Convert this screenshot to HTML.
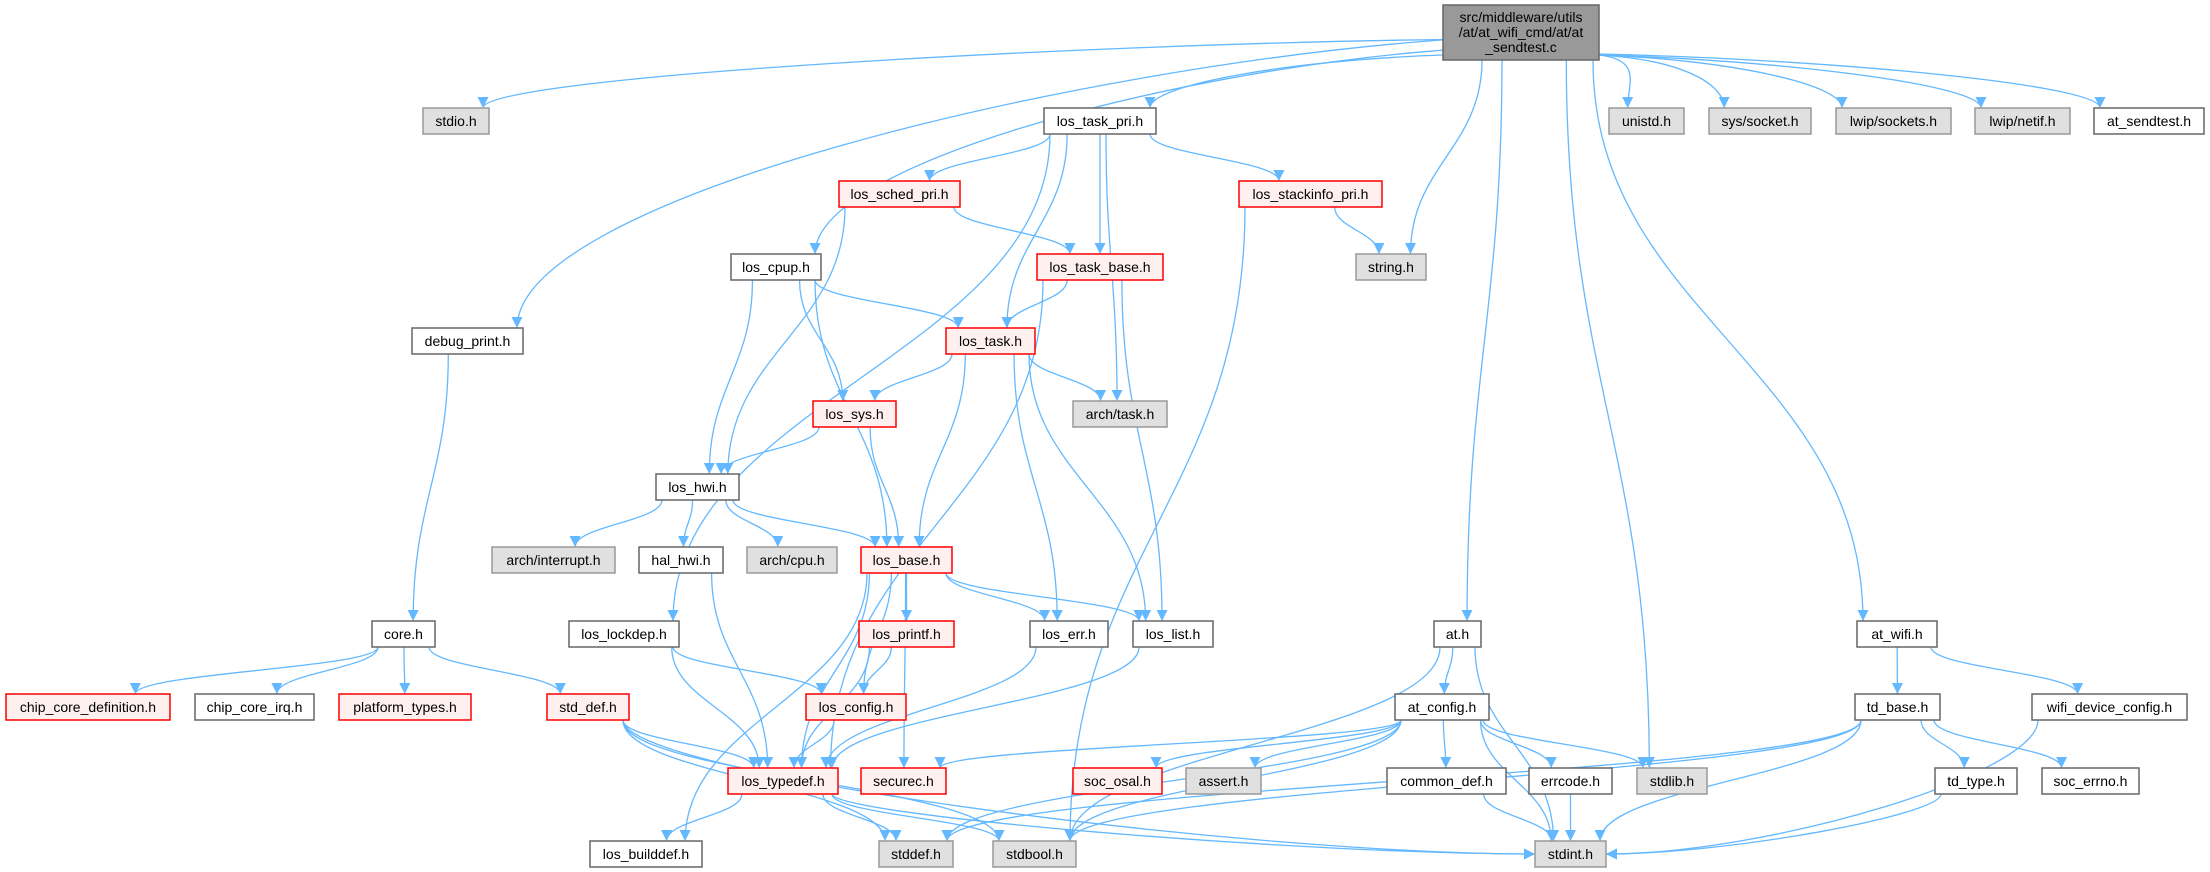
<!DOCTYPE html>
<html><head><meta charset="utf-8"><style>
html,body{margin:0;padding:0;background:#fff;}
svg{display:block;}
text{font-family:"Liberation Sans",sans-serif;font-size:14px;fill:#000;}
</style></head><body>
<svg id="g" width="2210" height="872" viewBox="0 0 2210 872" xmlns="http://www.w3.org/2000/svg">
<defs><marker id="a" viewBox="0 0 10 10" refX="10" refY="5" markerWidth="11" markerHeight="11" markerUnits="userSpaceOnUse" orient="auto"><path d="M0,0 L10,5 L0,10 z" fill="#63b8ff"/></marker></defs>
<g id="edges"></g><g id="nodes"></g>
</svg>
<script>
var R=[5,108,181,254,328,401,474,547,621,694,768,841];
var N={
"main":[1443,1599,0,"m"],
"stdio.h":[423,489,1,"g"],"los_task_pri.h":[1044,1156,1,"w"],"unistd.h":[1609,1684,1,"g"],"sys/socket.h":[1709,1811,1,"g"],"lwip/sockets.h":[1836,1951,1,"g"],"lwip/netif.h":[1975,2070,1,"g"],"at_sendtest.h":[2094,2204,1,"w"],
"los_sched_pri.h":[839,960,2,"r"],"los_stackinfo_pri.h":[1239,1382,2,"r"],
"los_cpup.h":[731,821,3,"w"],"los_task_base.h":[1037,1163,3,"r"],"string.h":[1356,1426,3,"g"],
"debug_print.h":[412,523,4,"w"],"los_task.h":[946,1035,4,"r"],
"los_sys.h":[813,896,5,"r"],"arch/task.h":[1073,1167,5,"g"],
"los_hwi.h":[656,739,6,"w"],
"arch/interrupt.h":[492,615,7,"g"],"hal_hwi.h":[639,723,7,"w"],"arch/cpu.h":[747,837,7,"g"],"los_base.h":[861,952,7,"r"],
"core.h":[372,435,8,"w"],"los_lockdep.h":[569,679,8,"w"],"los_printf.h":[859,954,8,"r"],"los_err.h":[1030,1108,8,"w"],"los_list.h":[1133,1213,8,"w"],"at.h":[1434,1481,8,"w"],"at_wifi.h":[1857,1937,8,"w"],
"chip_core_definition.h":[6,170,9,"r"],"chip_core_irq.h":[195,314,9,"w"],"platform_types.h":[339,471,9,"r"],"std_def.h":[547,629,9,"r"],"los_config.h":[806,906,9,"r"],"at_config.h":[1395,1489,9,"w"],"td_base.h":[1855,1940,9,"w"],"wifi_device_config.h":[2032,2187,9,"w"],
"los_typedef.h":[728,838,10,"r"],"securec.h":[861,946,10,"r"],"soc_osal.h":[1073,1162,10,"r"],"assert.h":[1186,1261,10,"g"],"common_def.h":[1387,1506,10,"w"],"errcode.h":[1529,1612,10,"w"],"stdlib.h":[1637,1707,10,"g"],"td_type.h":[1935,2017,10,"w"],"soc_errno.h":[2042,2139,10,"w"],
"los_builddef.h":[590,702,11,"w"],"stddef.h":[879,953,11,"g"],"stdbool.h":[993,1076,11,"g"],"stdint.h":[1535,1606,11,"g"]
};
var E=[
["main","stdio.h"],["main","debug_print.h"],["main","los_cpup.h"],["main","los_task_pri.h"],["main","string.h"],["main","at.h"],["main","stdlib.h"],["main","at_wifi.h"],["main","unistd.h"],["main","sys/socket.h"],["main","lwip/sockets.h"],["main","lwip/netif.h"],["main","at_sendtest.h"],
["los_task_pri.h","los_sched_pri.h"],["los_task_pri.h","los_task_base.h"],["los_task_pri.h","los_task.h"],["los_task_pri.h","arch/task.h"],["los_task_pri.h","los_stackinfo_pri.h"],["los_task_pri.h","los_lockdep.h"],
["los_sched_pri.h","los_task_base.h"],["los_sched_pri.h","los_hwi.h"],
["los_stackinfo_pri.h","string.h"],["los_stackinfo_pri.h","stdbool.h"],
["los_task_base.h","los_task.h"],["los_task_base.h","los_list.h"],["los_task_base.h","los_typedef.h"],
["los_cpup.h","los_task.h"],["los_cpup.h","los_sys.h"],["los_cpup.h","los_hwi.h"],["los_cpup.h","los_base.h"],
["debug_print.h","core.h"],
["los_task.h","los_sys.h"],["los_task.h","arch/task.h"],["los_task.h","los_base.h"],["los_task.h","los_err.h"],["los_task.h","los_list.h"],
["los_sys.h","los_hwi.h"],["los_sys.h","los_base.h"],
["los_hwi.h","arch/interrupt.h"],["los_hwi.h","hal_hwi.h"],["los_hwi.h","arch/cpu.h"],["los_hwi.h","los_base.h"],
["hal_hwi.h","los_typedef.h"],
["los_base.h","los_builddef.h"],["los_base.h","los_typedef.h"],["los_base.h","los_config.h"],["los_base.h","los_printf.h"],["los_base.h","securec.h"],["los_base.h","los_err.h"],["los_base.h","los_list.h"],
["core.h","chip_core_definition.h"],["core.h","chip_core_irq.h"],["core.h","platform_types.h"],["core.h","std_def.h"],
["los_lockdep.h","los_typedef.h"],["los_lockdep.h","los_config.h"],
["los_printf.h","los_config.h"],["los_printf.h","los_typedef.h"],
["los_err.h","los_typedef.h"],["los_list.h","los_typedef.h"],["los_config.h","los_typedef.h"],
["std_def.h","los_typedef.h"],["std_def.h","stddef.h"],["std_def.h","stdbool.h"],["std_def.h","stdint.h"],
["los_typedef.h","los_builddef.h"],["los_typedef.h","stddef.h"],["los_typedef.h","stdbool.h"],["los_typedef.h","stdint.h"],
["at.h","at_config.h"],["at.h","stdbool.h"],["at.h","stdint.h"],
["at_config.h","securec.h"],["at_config.h","soc_osal.h"],["at_config.h","assert.h"],["at_config.h","stddef.h"],["at_config.h","stdbool.h"],["at_config.h","stdint.h"],["at_config.h","common_def.h"],["at_config.h","errcode.h"],["at_config.h","stdlib.h"],
["common_def.h","stdint.h"],["errcode.h","stdint.h"],
["at_wifi.h","td_base.h"],["at_wifi.h","wifi_device_config.h"],
["td_base.h","stddef.h"],["td_base.h","stdbool.h"],["td_base.h","stdint.h"],["td_base.h","td_type.h"],["td_base.h","soc_errno.h"],
["td_type.h","stdint.h"],["wifi_device_config.h","stdint.h"]
];
function box(n){var d=N[n];var y1=R[d[2]],h=(d[3]=="m")?55:26;return {x1:d[0],x2:d[1],y1:y1,y2:y1+h,cx:(d[0]+d[1])/2,cy:y1+h/2,row:d[2]};}
function cl(v,a,b){return Math.max(a,Math.min(b,v));}
var eg=document.getElementById("edges"),ng=document.getElementById("nodes"),s="";
E.forEach(function(e){var a=box(e[0]),b=box(e[1]);var wa=(a.x2-a.x1)/2-6,wb=(b.x2-b.x1)/2-6;
var dxc=b.cx-a.cx,dyc=b.y1-a.y2;
var sx,sy,c1x,c1y,ex,ey,c2x,c2y;
if(e[0]=="main"&&(b.cx<a.x1||b.cx>a.x2)&&Math.abs(dxc)>1.2*dyc){
  sx=dxc<0?a.x1:a.x2; sy=a.y1+30+Math.min(20,Math.max(0,40-Math.abs(dxc)/30)); c1x=sx+dxc*0.35; c1y=sy+dyc*0.1;
}else{sx=a.cx+cl(dxc*0.3,-wa,wa);sy=a.y2;c1x=sx;c1y=sy+dyc*0.45;}
if(e[1]=="stdint.h"&&Math.abs(dxc)>3*dyc&&dyc>0){
  ex=dxc>0?b.x1:b.x2; ey=b.cy; c2x=ex-dxc*0.3; c2y=ey;
}else{ex=b.cx+cl(-dxc*0.15,-wb,wb);ey=b.y1;c2x=ex;c2y=ey-(ey-sy)*0.45;}
s+='<path d="M'+sx+','+sy+' C'+c1x+','+c1y+' '+c2x+','+c2y+' '+ex+','+ey+'" fill="none" stroke="#63b8ff" stroke-width="1.3" marker-end="url(#a)"/>';});
eg.innerHTML=s;
var t="";
for(var n in N){var b=box(n),d=N[n];var f="#fff",st="#666";
if(d[3]=="g"){f="#e0e0e0";st="#999";}if(d[3]=="r"){f="#fff0f0";st="#f00";}if(d[3]=="m"){f="#999";st="#666";}
t+='<rect x="'+b.x1+'" y="'+b.y1+'" width="'+(b.x2-b.x1)+'" height="'+(b.y2-b.y1)+'" fill="'+f+'" stroke="'+st+'" stroke-width="1.5"/>';
if(d[3]=="m"){t+='<text x="'+b.cx+'" y="22" text-anchor="middle">src/middleware/utils</text><text x="'+b.cx+'" y="37" text-anchor="middle">/at/at_wifi_cmd/at/at</text><text x="'+b.cx+'" y="52" text-anchor="middle">_sendtest.c</text>';}
else t+='<text x="'+b.cx+'" y="'+(b.y1+18)+'" text-anchor="middle">'+n+'</text>';}
ng.innerHTML=t;
</script>
</body></html>
